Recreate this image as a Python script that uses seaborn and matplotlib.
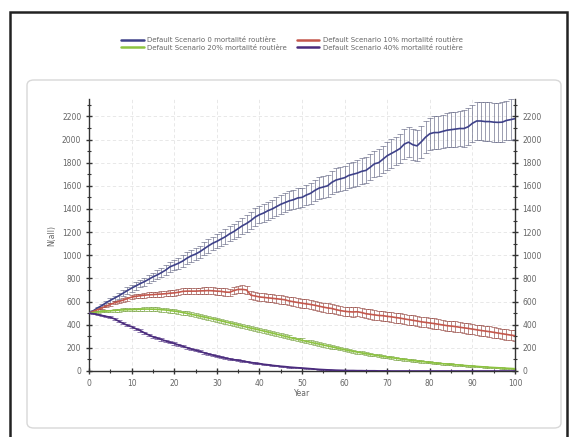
import numpy as np
import pandas as pd
import matplotlib.pyplot as plt
import seaborn as sns
from matplotlib.patches import FancyBboxPatch, Rectangle

# values (one point per year)
years = list(range(0, 101))

n_0pct = [500, 520, 545, 565, 590, 610, 630, 650, 672, 695,
          716, 735, 755, 772, 792, 813, 830, 850, 872, 900,
          915, 931, 950, 975, 995, 1010, 1030, 1055, 1080, 1103,
          1120, 1140, 1160, 1185, 1205, 1230, 1255, 1275, 1300, 1330,
          1350, 1365, 1385, 1400, 1420, 1440, 1455, 1470, 1480, 1495,
          1500, 1520, 1535, 1560, 1580, 1590, 1600, 1630, 1650, 1660,
          1670, 1690, 1700, 1710, 1725, 1733, 1760, 1790, 1800, 1830,
          1860, 1880, 1900, 1922, 1960, 1977, 1955, 1945, 1980, 2020,
          2050, 2060, 2060, 2070, 2080, 2085, 2090, 2095, 2095, 2110,
          2140, 2160, 2160, 2155, 2155, 2150, 2148, 2150, 2165, 2172, 2180]
err_0pct = [0, 8, 12, 15, 18, 20, 22, 24, 26, 28,
            30, 32, 33, 35, 36, 38, 39, 40, 42, 44,
            45, 47, 48, 50, 51, 53, 54, 56, 57, 59,
            60, 62, 63, 65, 66, 68, 69, 71, 72, 74,
            75, 76, 77, 78, 79, 80, 81, 82, 83, 84,
            85, 87, 89, 91, 93, 95, 97, 99, 101, 103,
            105, 106, 108, 109, 111, 112, 114, 115, 117, 118,
            120, 122, 124, 126, 128, 130, 132, 134, 136, 138,
            140, 142, 144, 146, 148, 150, 152, 154, 156, 158,
            160, 162, 163, 165, 166, 168, 169, 171, 172, 174, 175]

n_10pct = [500, 515, 530, 545, 560, 575, 590, 600, 612, 625,
           638, 645, 650, 655, 658, 660, 663, 665, 668, 672,
           675, 680, 688, 690, 690, 690, 692, 693, 695, 693,
           690, 688, 682, 680, 695, 705, 705, 700, 655, 648,
           640, 636, 632, 628, 624, 620, 615, 605, 598, 592,
           586, 580, 575, 568, 560, 552, 545, 540, 530, 522,
           516, 512, 510, 512, 505, 495, 490, 485, 480, 478,
           472, 468, 462, 457, 450, 444, 438, 432, 425, 420,
           415, 410, 404, 398, 392, 388, 384, 378, 373, 368,
           362, 356, 350, 345, 340, 334, 328, 322, 316, 310, 305]
err_10pct = [0, 6, 8, 10, 11, 12, 13, 14, 15, 16,
             17, 18, 19, 20, 21, 22, 22, 23, 24, 25,
             25, 26, 27, 27, 28, 28, 29, 29, 30, 30,
             31, 31, 32, 32, 33, 33, 34, 34, 34, 35,
             35, 35, 36, 36, 36, 37, 37, 37, 38, 38,
             38, 38, 39, 39, 39, 39, 40, 40, 40, 40,
             40, 41, 41, 41, 41, 41, 42, 42, 42, 42,
             42, 42, 43, 43, 43, 43, 43, 43, 43, 44,
             44, 44, 44, 44, 44, 44, 44, 45, 45, 45,
             45, 45, 45, 45, 45, 45, 45, 45, 45, 45, 45]

n_20pct = [500, 505, 510, 515, 518, 520, 523, 526, 528, 530,
           530, 532, 534, 535, 535, 534, 533, 530, 527, 522,
           517, 512, 505, 498, 490, 482, 474, 466, 458, 450,
           442, 433, 424, 415, 406, 397, 388, 379, 370, 362,
           354, 345, 336, 327, 318, 309, 300, 291, 282, 273,
           265, 256, 248, 240, 232, 224, 216, 208, 200, 192,
           184, 177, 170, 163, 156, 150, 144, 138, 132, 126,
           120, 115, 110, 105, 100, 95, 90, 86, 82, 78,
           74, 70, 66, 63, 60, 57, 54, 51, 48, 45,
           42, 40, 37, 35, 32, 30, 28, 26, 24, 22, 20]
err_20pct = [0, 5, 7, 8, 9, 10, 11, 12, 12, 13,
             13, 14, 14, 15, 15, 15, 16, 16, 16, 17,
             17, 17, 17, 18, 18, 18, 18, 18, 18, 18,
             18, 18, 18, 18, 18, 18, 18, 18, 18, 18,
             18, 18, 17, 17, 17, 17, 17, 17, 16, 16,
             16, 16, 16, 15, 15, 15, 15, 15, 14, 14,
             14, 14, 13, 13, 13, 13, 12, 12, 12, 12,
             11, 11, 11, 11, 10, 10, 10, 10, 9, 9,
             9, 9, 8, 8, 8, 8, 7, 7, 7, 7,
             7, 6, 6, 6, 6, 6, 5, 5, 5, 5, 5]

n_40pct = [500, 495, 488, 480, 472, 464, 450, 430, 412, 395,
           383, 365, 350, 330, 312, 296, 285, 272, 260, 248,
           238, 226, 214, 202, 190, 180, 170, 158, 148, 138,
           128, 120, 112, 104, 98, 93, 86, 80, 74, 68,
           64, 58, 54, 49, 45, 41, 38, 34, 31, 28,
           26, 23, 20, 17, 14, 12, 10, 9, 7, 6,
           5, 4, 4, 3, 3, 2, 2, 2, 1, 1,
           1, 0, 0, 0, 0, 0, 0, 0, 0, 0,
           0, 0, 0, 0, 0, 0, 0, 0, 0, 0,
           0, 0, 0, 0, 0, 0, 0, 0, 0, 0, 0]
err_40pct = [0, 4, 5, 6, 7, 8, 8, 9, 9, 9,
             10, 10, 10, 10, 10, 10, 10, 10, 10, 10,
             10, 10, 9, 9, 9, 9, 9, 9, 8, 8,
             8, 8, 7, 7, 7, 7, 6, 6, 6, 6,
             5, 5, 5, 5, 4, 4, 4, 4, 4, 3,
             3, 3, 3, 3, 2, 2, 2, 2, 2, 2,
             1, 1, 1, 1, 1, 1, 1, 1, 1, 1,
             1, 0, 0, 0, 0, 0, 0, 0, 0, 0,
             0, 0, 0, 0, 0, 0, 0, 0, 0, 0,
             0, 0, 0, 0, 0, 0, 0, 0, 0, 0, 0]

labels = ['Default Scenario 0 mortalité routière',
          'Default Scenario 10% mortalité routière',
          'Default Scenario 20% mortalité routière',
          'Default Scenario 40% mortalité routière']
line_colors = ['#3e4189', '#c4574c', '#8dc440', '#4a2b7d']
bar_colors = ['#5b5f7e', '#8e3b34', '#6e9c35', '#4a2b7d']

series = [n_0pct, n_10pct, n_20pct, n_40pct]
errors = [err_0pct, err_10pct, err_20pct, err_40pct]

df = pd.DataFrame({
    'Year': years * 4,
    'N': n_0pct + n_10pct + n_20pct + n_40pct,
    'Scenario': [lab for lab in labels for _ in years],
})

sns.set_style('white')
plt.rcParams['font.family'] = ['DejaVu Sans']
txt = '#666666'

fig = plt.figure(figsize=(5.75, 4.37), dpi=100)

# scanned page frame and rounded chart panel
fig.patches.append(Rectangle((10 / 575, -0.05), 557 / 575, 1.05 - 12 / 437,
                             transform=fig.transFigure, fill=False,
                             edgecolor='#222222', linewidth=1.8))
fig.patches.append(FancyBboxPatch((27 / 575, 9 / 437), 534 / 575, 348 / 437,
                                  boxstyle='round,pad=0,rounding_size=0.012',
                                  transform=fig.transFigure, fill=False,
                                  edgecolor='#d8d8d8', linewidth=1.0))

ax = fig.add_axes([89 / 575, 1 - 371 / 437, 426 / 575, 272 / 437])

for i, lab in enumerate(labels):
    ax.errorbar(years, series[i], yerr=errors[i], fmt='none',
                ecolor=bar_colors[i], elinewidth=0.5, capsize=2.0,
                capthick=0.5, alpha=0.85, zorder=2)

sns.lineplot(data=df, x='Year', y='N', hue='Scenario', palette=line_colors,
             hue_order=labels, linewidth=1.2, ax=ax, legend=False, zorder=3)

ax.set_xlim(0, 100)
ax.set_ylim(0, 2350)
ax.set_xticks(range(0, 101, 10))
ax.set_xticks(range(0, 101, 5), minor=True)
ax.set_yticks(range(0, 2201, 200))
ax.set_yticks(range(0, 2301, 100), minor=True)
ax.grid(True, which='major', color='#e4e4e4', linestyle=(0, (4, 3)), linewidth=0.6)

for side in ['left', 'bottom', 'right']:
    ax.spines[side].set_visible(True)
    ax.spines[side].set_color('#333333')
    ax.spines[side].set_linewidth(1.0)
ax.spines['top'].set_visible(False)

ax.tick_params(axis='both', which='major', direction='inout', length=5, width=1.0,
               color='#333333', labelsize=5.5, labelcolor=txt, pad=3)
ax.tick_params(axis='both', which='minor', direction='inout', length=3, width=0.8,
               color='#333333')
ax.tick_params(axis='y', which='both', left=True, right=True,
               labelleft=True, labelright=True)
ax.tick_params(axis='x', which='both', bottom=True, top=False)

ax.set_xlabel('Year', fontsize=5.5, color=txt, labelpad=1)
ax.set_ylabel('N(all)', fontsize=5.5, color=txt, labelpad=4)

handles = [plt.Line2D([], [], color=c, linewidth=1.8) for c in line_colors]
order = [0, 2, 1, 3]
fig.legend([handles[k] for k in order], [labels[k] for k in order],
           loc='center', bbox_to_anchor=(292 / 575, 1 - 44 / 437), ncol=2,
           frameon=False, fontsize=5, labelcolor=txt, handlelength=3.2,
           handletextpad=0.5, columnspacing=1.5, labelspacing=0.25)

fig.savefig('out.png', dpi=100, facecolor='white')
